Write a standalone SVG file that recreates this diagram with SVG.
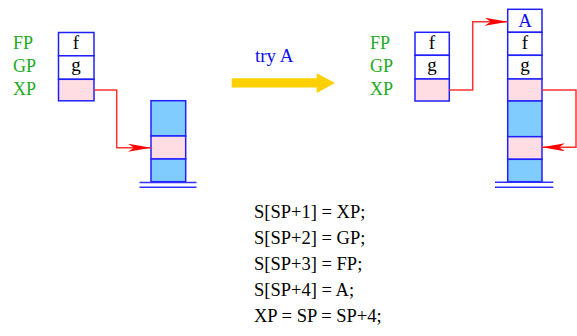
<svg xmlns="http://www.w3.org/2000/svg" width="577" height="336" viewBox="0 0 577 336">
<style>
.cell{stroke:#2020ff;stroke-width:1.5}
.w{fill:#ffffff}
.p{fill:#ffdde3}
.b{fill:#80ccff}
.lbl{font-family:"Liberation Serif",serif;font-size:18px;fill:#22aa22}
.val{font-family:"Liberation Serif",serif;font-size:19px;fill:#000;text-anchor:middle}
.code{font-family:"Liberation Serif",serif;font-size:18.5px;fill:#000}
.gnd{stroke:#3030ff;stroke-width:1.5}
.con{fill:none;stroke:#ff3030;stroke-width:1.5}
</style>
<defs>
<marker id="ah" markerUnits="userSpaceOnUse" viewBox="0 0 23 8" refX="23" refY="4" markerWidth="23" markerHeight="8" orient="auto">
<path d="M0,0 L23,4 L0,8 L6,4 Z" fill="#ff0000"/>
</marker>
</defs>

<g id="left-frame">
<text class="lbl" x="13" y="49">FP</text>
<text class="lbl" x="13" y="72">GP</text>
<text class="lbl" x="13" y="95">XP</text>
<rect class="cell w" x="58.5" y="32.5" width="35.5" height="23.3"/>
<rect class="cell w" x="58.5" y="55.8" width="35.5" height="23.5"/>
<rect class="cell p" x="58.5" y="79.3" width="35.5" height="21.5"/>
<text class="val" x="76" y="49">f</text>
<text class="val" x="76" y="71">g</text>
</g>

<g id="left-stack">
<rect class="cell b" x="151" y="100.7" width="34.7" height="35.3"/>
<rect class="cell p" x="151" y="136" width="34.7" height="23"/>
<rect class="cell b" x="151" y="159" width="34.7" height="22.7"/>
<line class="gnd" x1="139.5" y1="182.5" x2="196.5" y2="182.5"/>
<line class="gnd" x1="139.5" y1="187.3" x2="196.5" y2="187.3"/>
</g>

<g id="try-arrow">
<text x="255" y="62" font-family="Liberation Serif,serif" font-size="19" fill="#1010ee">try A</text>
<polygon points="231.7,78.3 316.7,78.3 316.7,73.3 335,83 316.7,93 316.7,87.6 231.7,87.6" fill="#ffd000"/>
</g>

<g id="right-frame">
<text class="lbl" x="370" y="49">FP</text>
<text class="lbl" x="370" y="72">GP</text>
<text class="lbl" x="370" y="95">XP</text>
<rect class="cell w" x="415" y="32.3" width="34.3" height="23"/>
<rect class="cell w" x="415" y="55.3" width="34.3" height="23.7"/>
<rect class="cell p" x="415" y="79" width="34.3" height="22"/>
<text class="val" x="432" y="49">f</text>
<text class="val" x="432" y="71">g</text>
</g>

<g id="right-stack">
<rect class="cell w" x="507.7" y="9.3" width="34.3" height="23"/>
<rect class="cell w" x="507.7" y="32.3" width="34.3" height="23"/>
<rect class="cell w" x="507.7" y="55.3" width="34.3" height="23.7"/>
<rect class="cell p" x="507.7" y="79" width="34.3" height="22"/>
<rect class="cell b" x="507.7" y="101" width="34.3" height="35.7"/>
<rect class="cell p" x="507.7" y="136.7" width="34.3" height="22.6"/>
<rect class="cell b" x="507.7" y="159.3" width="34.3" height="22.4"/>
<text class="val" x="525" y="27" style="fill:#1010ee">A</text>
<text class="val" x="525" y="49">f</text>
<text class="val" x="525" y="71">g</text>
<line class="gnd" x1="495" y1="182.2" x2="553.3" y2="182.2"/>
<line class="gnd" x1="495" y1="187.3" x2="553.3" y2="187.3"/>
</g>

<g id="connectors">
<polyline class="con" points="94,90 116.7,90 116.7,147.7 151,147.7" marker-end="url(#ah)"/>
<polyline class="con" points="449.3,90 472.7,90 472.7,21.7 507.7,21.7" marker-end="url(#ah)"/>
<polyline class="con" points="542,90 576,90 576,147.3 542,147.3" marker-end="url(#ah)"/>
</g>

<g id="code">
<text class="code" x="254" y="218">S[SP+1] = XP;</text>
<text class="code" x="254" y="244">S[SP+2] = GP;</text>
<text class="code" x="254" y="270">S[SP+3] = FP;</text>
<text class="code" x="254" y="296">S[SP+4] = A;</text>
<text class="code" x="254" y="322">XP = SP = SP+4;</text>
</g>
</svg>
